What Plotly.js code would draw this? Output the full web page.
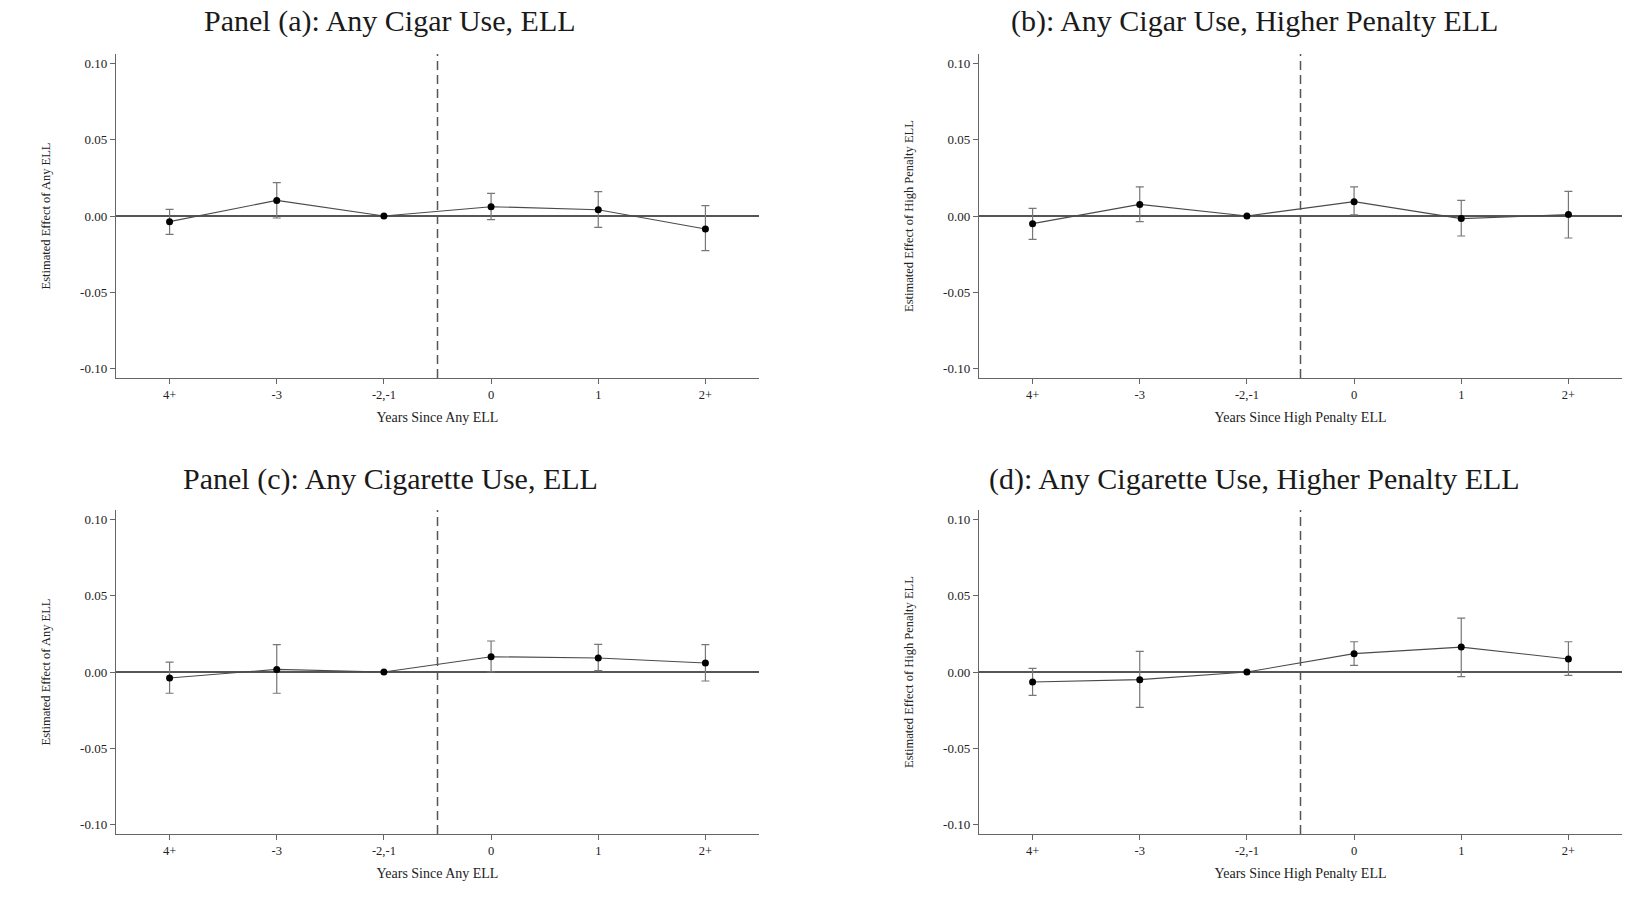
<!DOCTYPE html>
<html>
<head>
<meta charset="utf-8">
<script src="https://cdn.plot.ly/plotly-3.0.1.min.js"></script>
<style>html,body{margin:0;padding:0;background:#fff;}#chart{width:1625px;height:910px;}</style>
</head>
<body>
<div id="chart"></div>
<script>
// Event-time categories (x axis)
const categories = ['4+', '-3', '-2,-1', '0', '1', '2+'];

// Y tick values and labels
const yTickVals = [-0.10, -0.05, 0.00, 0.05, 0.10];
const yTickText = ['-0.10', '-0.05', '0.00', '0.05', '0.10'];

// Panel (a): Any Cigar Use, ELL
const estA = [-0.0037, 0.0102, 0.0, 0.0061, 0.0041, -0.0085];
const hiA  = [0.0044, 0.0218, null, 0.0148, 0.0159, 0.0068];
const loA  = [-0.0120, -0.0013, null, -0.0024, -0.0074, -0.0227];

// Panel (b): Any Cigar Use, Higher Penalty ELL
const estB = [-0.0050, 0.0076, 0.0, 0.0094, -0.0017, 0.0009];
const hiB  = [0.0050, 0.0190, null, 0.0190, 0.0102, 0.0161];
const loB  = [-0.0153, -0.0037, null, 0.0007, -0.0131, -0.0144];

// Panel (c): Any Cigarette Use, ELL
const estC = [-0.0039, 0.0017, 0.0, 0.0100, 0.0092, 0.0059];
const hiC  = [0.0065, 0.0179, null, 0.0203, 0.0181, 0.0179];
const loC  = [-0.0139, -0.0139, null, 0.0000, 0.0009, -0.0059];

// Panel (d): Any Cigarette Use, Higher Penalty ELL
const estD = [-0.0065, -0.0050, 0.0, 0.0120, 0.0163, 0.0085];
const hiD  = [0.0024, 0.0135, null, 0.0198, 0.0353, 0.0198];
const loD  = [-0.0153, -0.0231, null, 0.0044, -0.0030, -0.0022];

const panelTitles = [
  'Panel (a): Any Cigar Use, ELL',
  '(b): Any Cigar Use, Higher Penalty ELL',
  'Panel (c): Any Cigarette Use, ELL',
  '(d): Any Cigarette Use, Higher Penalty ELL'
];
const xTitles = ['Years Since Any ELL', 'Years Since High Penalty ELL', 'Years Since Any ELL', 'Years Since High Penalty ELL'];
const yTitles = ['Estimated Effect of Any ELL', 'Estimated Effect of High Penalty ELL', 'Estimated Effect of Any ELL', 'Estimated Effect of High Penalty ELL'];

const panels = [
  {est: estA, hi: hiA, lo: loA},
  {est: estB, hi: hiB, lo: loB},
  {est: estC, hi: hiC, lo: loC},
  {est: estD, hi: hiD, lo: loD}
];

const FONT = '"Liberation Serif", "DejaVu Serif", serif';
const W = 1625, H = 910;
const xDomL = [116 / W, 759 / W];
const xDomR = [979 / W, 1622 / W];
const yDomT = [1 - 378 / H, 1 - 54 / H];
const yDomB = [1 - 834 / H, 1 - 510 / H];
const xDoms = [xDomL, xDomR, xDomL, xDomR];
const yDoms = [yDomT, yDomT, yDomB, yDomB];

const traces = [];
const layout = {
  width: W, height: H,
  margin: {l: 0, r: 0, t: 0, b: 0},
  paper_bgcolor: '#ffffff',
  plot_bgcolor: '#ffffff',
  showlegend: false,
  font: {family: FONT, color: '#1a1a1a'},
  shapes: [],
  annotations: []
};

panels.forEach((p, i) => {
  const n = i + 1;
  const xa = n === 1 ? 'x' : 'x' + n;
  const ya = n === 1 ? 'y' : 'y' + n;
  const plus = p.est.map((v, k) => p.hi[k] == null ? NaN : p.hi[k] - v);
  const minus = p.est.map((v, k) => p.lo[k] == null ? NaN : v - p.lo[k]);
  traces.push({
    type: 'scatter', mode: 'lines+markers',
    x: categories, y: p.est,
    xaxis: xa, yaxis: ya,
    line: {color: '#4a4a4a', width: 1.1},
    marker: {color: '#000000', size: 7},
    error_y: {type: 'data', symmetric: false, array: plus, arrayminus: minus,
              color: '#777777', thickness: 1.2, width: 4},
    hoverinfo: 'x+y'
  });
  const xKey = n === 1 ? 'xaxis' : 'xaxis' + n;
  const yKey = n === 1 ? 'yaxis' : 'yaxis' + n;
  layout[xKey] = {
    domain: xDoms[i], anchor: ya,
    type: 'category', categoryorder: 'array', categoryarray: categories,
    range: [-0.5, 5.5],
    showline: true, linecolor: '#666666', linewidth: 1.2,
    ticks: 'outside', ticklen: 5, tickcolor: '#666666', tickwidth: 1,
    showgrid: false, zeroline: false,
    tickfont: {family: FONT, size: 12.5, color: '#222'},
    title: {text: xTitles[i], font: {family: FONT, size: 14, color: '#222'}, standoff: 11},
    automargin: false, fixedrange: true
  };
  layout[yKey] = {
    domain: yDoms[i], anchor: xa,
    range: [-0.106, 0.106],
    tickvals: yTickVals, ticktext: yTickText,
    showline: true, linecolor: '#666666', linewidth: 1.2,
    ticks: 'outside', ticklen: 5, tickcolor: '#666666', tickwidth: 1,
    showgrid: false,
    zeroline: true, zerolinecolor: '#555555', zerolinewidth: 1.4,
    tickfont: {family: FONT, size: 13, color: '#222'},
    title: {text: yTitles[i], font: {family: FONT, size: 12.5, color: '#222'}, standoff: 26},
    automargin: false, fixedrange: true
  };
  layout.shapes.push({
    type: 'line', xref: xa, yref: ya + ' domain',
    x0: 2.5, x1: 2.5, y0: 0, y1: 1,
    line: {color: '#555555', width: 1.5, dash: '9px,5px'}
  });
});

const titleX = [390 / W, 1254 / W, 390 / W, 1254 / W];
const titleY = [1 - 21 / H, 1 - 21 / H, 1 - 479 / H, 1 - 479 / H];
panelTitles.forEach((t, i) => {
  layout.annotations.push({
    text: t, xref: 'paper', yref: 'paper', x: titleX[i], y: titleY[i],
    xanchor: 'center', yanchor: 'middle', showarrow: false,
    font: {family: FONT, size: 30, color: '#1a1a1a'}
  });
});

Plotly.newPlot('chart', traces, layout, {displayModeBar: false, staticPlot: true});
</script>
</body>
</html>
